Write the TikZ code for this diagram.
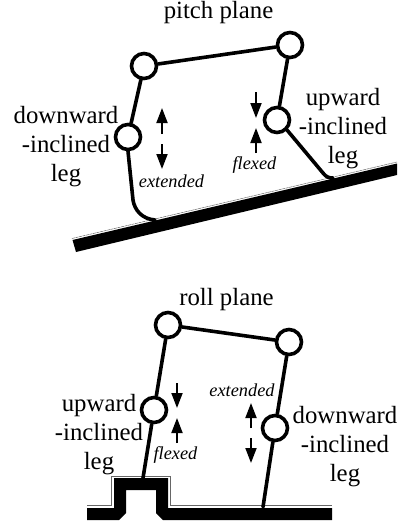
\documentclass[tikz,border=0pt]{standalone}
\usepackage{fontspec}
\setmainfont{Liberation Serif}
\usetikzlibrary{arrows.meta}
\tikzset{
  x=1pt,y=-1pt,
  joint/.style={circle,draw=black,fill=white,line width=3.6pt,minimum size=25pt,inner sep=0pt},
  limb/.style={line width=3.6pt,line cap=round,line join=round},
  motion/.style={line width=1.8pt,-{Triangle[length=15pt,width=11pt]}},
  lbl/.style={font=\fontsize{24.8}{29}\selectfont,align=center,inner sep=0pt},
  state/.style={font=\fontsize{18.3}{20}\selectfont\itshape,inner sep=0pt},
  rim/.style={draw=black!60,line width=0.5pt}
}
\begin{document}
\begin{tikzpicture}
\useasboundingbox (0,0) rectangle (397,525);
% pitch plane
\fill (72.5,240) -- (397,163.5) -- (397,175) -- (76,252) -- cycle;
\draw[rim,dashed,dash pattern=on 3pt off 0.6pt] (72,238.5) -- (397,162);
\coordinate (pf1) at (155,220);
\coordinate (pf2) at (333,178);
\node[joint] (p1) at (144,66) {};
\node[joint] (p2) at (290,45) {};
\node[joint] (p3) at (128,137) {};
\node[joint] (p4) at (277,120) {};
\draw[limb] (p1) -- (p2);
\draw[limb] (p1) -- (p3);
\draw[limb] (p2) -- (p4);
\draw[limb] (p3.south) -- (133,200) .. controls (134.5,210) and (142,219) .. (pf1);
\draw[limb] (p4.south east) -- (323,173) .. controls (326,177) and (329,178) .. (pf2);
\node[lbl] (t1) at (218.5,12.2) {pitch plane};
\node[lbl] (t2) at (66,147) {downward\\-inclined\\leg};
\node[lbl] (t3) at (343,129) {upward\\-inclined\\leg};
\node[state] (t4) at (171.5,181) {extended};
\node[state] (t5) at (254.5,165) {flexed};
\coordinate (a1s) at (162,134);
\coordinate (a1e) at (162,108);
\coordinate (a2s) at (162,144);
\coordinate (a2e) at (162,169);
\coordinate (a3s) at (256,92);
\coordinate (a3e) at (256,118);
\coordinate (a4s) at (256,153);
\coordinate (a4e) at (256,128);
\draw[motion] (a1s) -- (a1e);
\draw[motion] (a2s) -- (a2e);
\draw[motion] (a3s) -- (a3e);
\draw[motion] (a4s) -- (a4e);
% roll plane
\fill (87,508) -- (114,508) -- (114,478) -- (168,478) -- (168,508) -- (332,508) -- (332,520) -- (163,520) -- (156,513) -- (156,490) -- (126,490) -- (126,513) -- (119,520) -- (87,520) -- cycle;
\draw[rim] (87,505.5) -- (111.5,505.5) -- (111.5,476) -- (170,476) -- (170,505.5) -- (332,505.5);
\node[joint] (r1) at (168,325) {};
\node[joint] (r2) at (289,342) {};
\node[joint] (r3) at (154,410) {};
\node[joint] (r4) at (275,428) {};
\coordinate (rf1) at (143,478);
\coordinate (rf2) at (263,507);
\draw[limb] (r1) -- (r2);
\draw[limb] (r1) -- (r3);
\draw[limb] (r2) -- (r4);
\draw[limb] (r3) -- (rf1);
\draw[limb] (r4) -- (rf2);
\node[lbl] (t6) at (226.5,300) {roll plane};
\node[lbl] (t7) at (99,435) {upward\\-inclined\\leg};
\node[lbl] (t8) at (345,447) {downward\\-inclined\\leg};
\node[state] (t9) at (242,390) {extended};
\node[state] (t10) at (175.5,455) {flexed};
\coordinate (b1s) at (177,383);
\coordinate (b1e) at (177,408);
\coordinate (b2s) at (177,443);
\coordinate (b2e) at (177,418);
\coordinate (b3s) at (251,428);
\coordinate (b3e) at (251,403);
\coordinate (b4s) at (251,438);
\coordinate (b4e) at (251,463);
\draw[motion] (b1s) -- (b1e);
\draw[motion] (b2s) -- (b2e);
\draw[motion] (b3s) -- (b3e);
\draw[motion] (b4s) -- (b4e);
\end{tikzpicture}
\end{document}
